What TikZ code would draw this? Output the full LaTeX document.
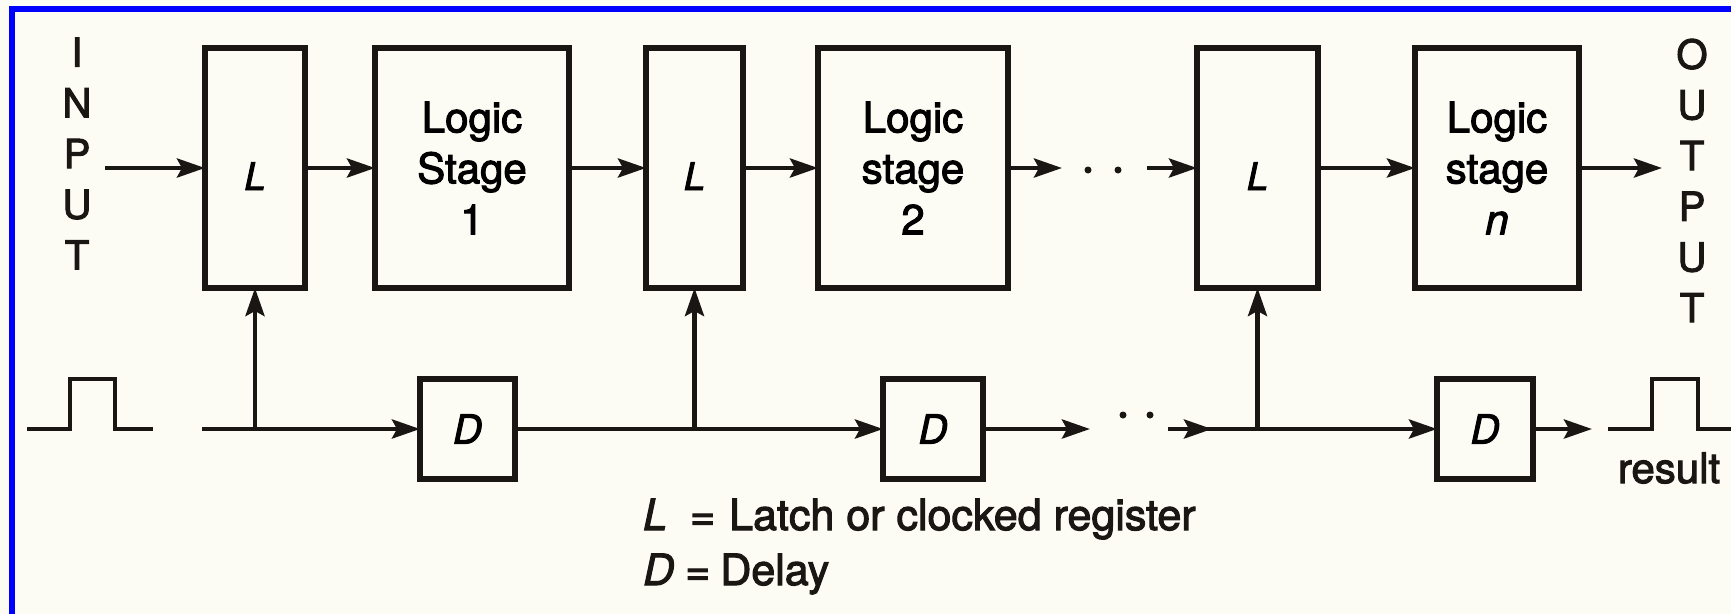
\documentclass[tikz,border=0pt]{standalone}
\usepackage{fontspec}
\setmainfont{TeX Gyre Heros}[FakeBold=2.5]
\usetikzlibrary{arrows.meta}
\definecolor{bg}{RGB}{253,252,244}
\definecolor{ink}{RGB}{25,22,20}
\definecolor{frameblue}{RGB}{0,0,255}
\begin{document}
\begin{tikzpicture}[x=1pt,y=-1pt,
  box/.style={draw=ink, line width=5.5pt, inner sep=0pt, outer sep=0pt, minimum height=240pt},
  dbox/.style={draw=ink, line width=5.5pt, inner sep=0pt, outer sep=0pt, minimum height=100pt, font=\fontsize{40}{40}\selectfont\itshape},
  latch/.style={box, font=\fontsize{38}{38}\selectfont\itshape, text height=44pt, text depth=0pt},
  stage/.style={box, align=center, font=\fontsize{42}{51}\selectfont},
  wire/.style={draw=ink, line width=4.5pt},
  arr/.style={wire, -{Stealth[length=28pt,width=19pt,inset=5pt]}},
  vlabel/.style={align=center, font=\fontsize{40}{50.7}\selectfont, inner sep=0pt, text=ink},
  dotmark/.style={circle, fill=ink, inner sep=0pt, minimum size=7pt},
  legend/.style={anchor=base west, inner sep=0pt, font=\fontsize{43}{43}\selectfont, text=ink},
  pulse/.style={draw=ink, line width=4.5pt, line join=miter}
]
\fill[bg] (0,0) rectangle (1731,614);
\useasboundingbox (0,0) rectangle (1731,614);
\draw[frameblue, line width=6pt] (12,614) -- (12,9) -- (1731,9);

% top row
\node[vlabel] (inlbl) at (77,153.5) {I\\N\\P\\U\\T};
\node[latch, minimum width=100pt] (L1) at (255,168) {L};
\node[stage, minimum width=194pt] (LS1) at (472,168) {Logic\\Stage\\1};
\node[latch, minimum width=97pt] (L2) at (694.5,168) {L};
\node[stage, minimum width=190pt] (LS2) at (913,168) {Logic\\stage\\2};
\node[latch, minimum width=121pt] (L3) at (1257.5,168) {L};
\node[stage, minimum width=164pt] (LSn) at (1497,168) {Logic\\stage\\\textit{n}};
\node[vlabel] (outlbl) at (1692,180.5) {O\\U\\T\\P\\U\\T};

\coordinate (inA) at (105,168);
\coordinate (gap1) at (1062,168);
\coordinate (gap2) at (1147,168);
\coordinate (outA) at (1662,168);
\node[dotmark] (td1) at (1088,170) {};
\node[dotmark] (td2) at (1118,170) {};

\draw[arr] (inA) -- (L1.west);
\draw[arr] (L1.east) -- (LS1.west);
\draw[arr] (LS1.east) -- (L2.west);
\draw[arr] (L2.east) -- (LS2.west);
\draw[arr] (LS2.east) -- (gap1);
\draw[arr] (gap2) -- (L3.west);
\draw[arr] (L3.east) -- (LSn.west);
\draw[arr] (LSn.east) -- (outA);

% bottom row
\node[dbox, minimum width=95pt] (D1) at (467.5,429) {D};
\node[dbox, minimum width=100pt] (D2) at (933,429) {D};
\node[dbox, minimum width=96pt] (D3) at (1485,429) {D};

\draw[pulse] (27,429) -- (70,429) -- (70,379) -- (115,379) -- (115,429) -- (153,429);
\draw[pulse] (1608,429) -- (1652,429) -- (1652,379) -- (1698,379) -- (1698,429) -- (1735,429);
\node[anchor=base, inner sep=0pt, font=\fontsize{42}{42}\selectfont, text=ink] (res) at (1669,483) {result};

\coordinate (clk) at (202,429);
\coordinate (gap3) at (1090,429);
\coordinate (gap4) at (1168,429);
\coordinate (gap5) at (1212,429);
\coordinate (resA) at (1592,429);
\node[dotmark] (bd1) at (1123,415) {};
\node[dotmark] (bd2) at (1150,415) {};

\draw[arr] (clk) -- (D1.west);
\draw[arr] (clk -| L1.south) -- (L1.south);
\draw[arr] (D1.east) -- (D2.west);
\draw[arr] (D1.east -| L2.south) -- (L2.south);
\draw[arr] (D2.east) -- (gap3);
\draw[arr] (gap4) -- (D3.west);
\draw[arr] (gap4) -- (gap5);
\draw[arr] (gap4 -| L3.south) -- (L3.south);
\draw[arr] (D3.east) -- (resA);

% legend
\node[legend] (leg1) at (643,530) {\textit{L}\hspace{23pt}=\hspace{14pt}Latch or clocked register};
\node[legend] (leg2) at (643,585) {\textit{D}\hspace{11pt}=\hspace{10pt}Delay};
\end{tikzpicture}
\end{document}
